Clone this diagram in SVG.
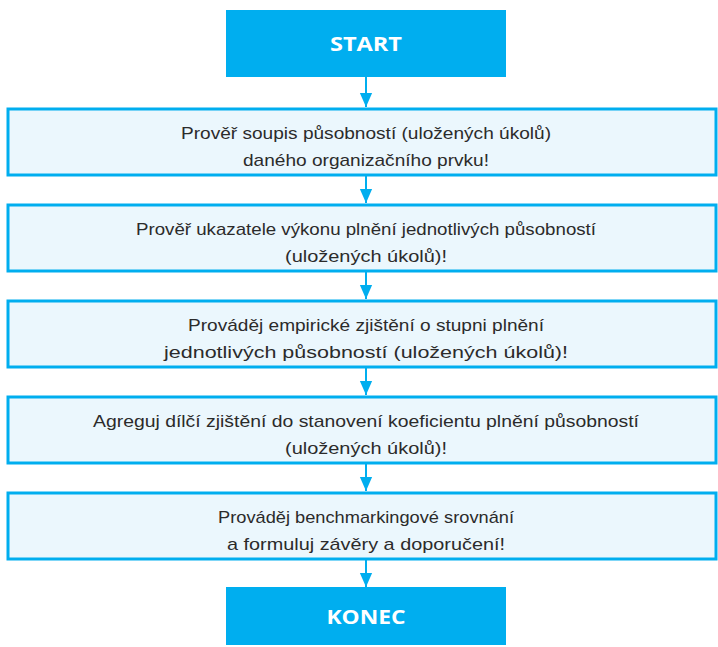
<svg xmlns="http://www.w3.org/2000/svg" width="718" height="647" viewBox="0 0 718 647">
<defs>
<style>
.term{fill:#00aeef}
.termt{fill:#fff;font-family:"Open Sans","Liberation Sans",sans-serif;font-weight:bold;font-size:20px;text-anchor:middle}
.step{fill:#ebf7fd;stroke:#00aeef;stroke-width:3}
.t{fill:#2b2b2b;font-family:"Liberation Sans","DejaVu Sans",sans-serif;font-size:17px;text-anchor:middle}
.con{stroke:#00aeef;stroke-width:2;fill:none}
</style>
<marker id="ah" markerWidth="14" markerHeight="14" refX="16" refY="7" orient="auto" markerUnits="userSpaceOnUse" viewBox="0 0 16 14">
<path d="M0,0 L16,7 L0,14 Z" fill="#00aeef"/>
</marker>
</defs>
<rect width="718" height="647" fill="#fff"/>
<g id="connectors">
<line class="con" x1="366" y1="77" x2="366" y2="107" marker-end="url(#ah)"/>
<line class="con" x1="366" y1="175" x2="366" y2="203" marker-end="url(#ah)"/>
<line class="con" x1="366" y1="271" x2="366" y2="299" marker-end="url(#ah)"/>
<line class="con" x1="366" y1="367" x2="366" y2="395" marker-end="url(#ah)"/>
<line class="con" x1="366" y1="463" x2="366" y2="491" marker-end="url(#ah)"/>
<line class="con" x1="366" y1="559" x2="366" y2="587" marker-end="url(#ah)"/>
</g>
<g id="start">
<rect class="term" x="226" y="10" width="280" height="67"/>
<text class="termt" x="366" y="51" textLength="72" lengthAdjust="spacingAndGlyphs">START</text>
</g>
<g id="step1">
<rect class="step" x="8" y="109" width="708" height="66"/>
<text class="t" x="366" y="139" textLength="370" lengthAdjust="spacingAndGlyphs">Prověř soupis působností (uložených úkolů)</text>
<text class="t" x="366" y="166" textLength="246" lengthAdjust="spacingAndGlyphs">daného organizačního prvku!</text>
</g>
<g id="step2">
<rect class="step" x="8" y="205" width="708" height="66"/>
<text class="t" x="366" y="235" textLength="460" lengthAdjust="spacingAndGlyphs">Prověř ukazatele výkonu plnění jednotlivých působností</text>
<text class="t" x="366" y="262" textLength="162" lengthAdjust="spacingAndGlyphs">(uložených úkolů)!</text>
</g>
<g id="step3">
<rect class="step" x="8" y="301" width="708" height="66"/>
<text class="t" x="366" y="331" textLength="356" lengthAdjust="spacingAndGlyphs">Prováděj empirické zjištění o stupni plnění</text>
<text class="t" x="366" y="358" textLength="404" lengthAdjust="spacingAndGlyphs">jednotlivých působností (uložených úkolů)!</text>
</g>
<g id="step4">
<rect class="step" x="8" y="397" width="708" height="66"/>
<text class="t" x="366" y="427" textLength="546" lengthAdjust="spacingAndGlyphs">Agreguj dílčí zjištění do stanovení koeficientu plnění působností</text>
<text class="t" x="366" y="454" textLength="162" lengthAdjust="spacingAndGlyphs">(uložených úkolů)!</text>
</g>
<g id="step5">
<rect class="step" x="8" y="493" width="708" height="66"/>
<text class="t" x="366" y="523" textLength="296" lengthAdjust="spacingAndGlyphs">Prováděj benchmarkingové srovnání</text>
<text class="t" x="366" y="550" textLength="278" lengthAdjust="spacingAndGlyphs">a formuluj závěry a doporučení!</text>
</g>
<g id="konec">
<rect class="term" x="226" y="587" width="280" height="58"/>
<text class="termt" x="366" y="624" textLength="79" lengthAdjust="spacingAndGlyphs">KONEC</text>
</g>
</svg>
